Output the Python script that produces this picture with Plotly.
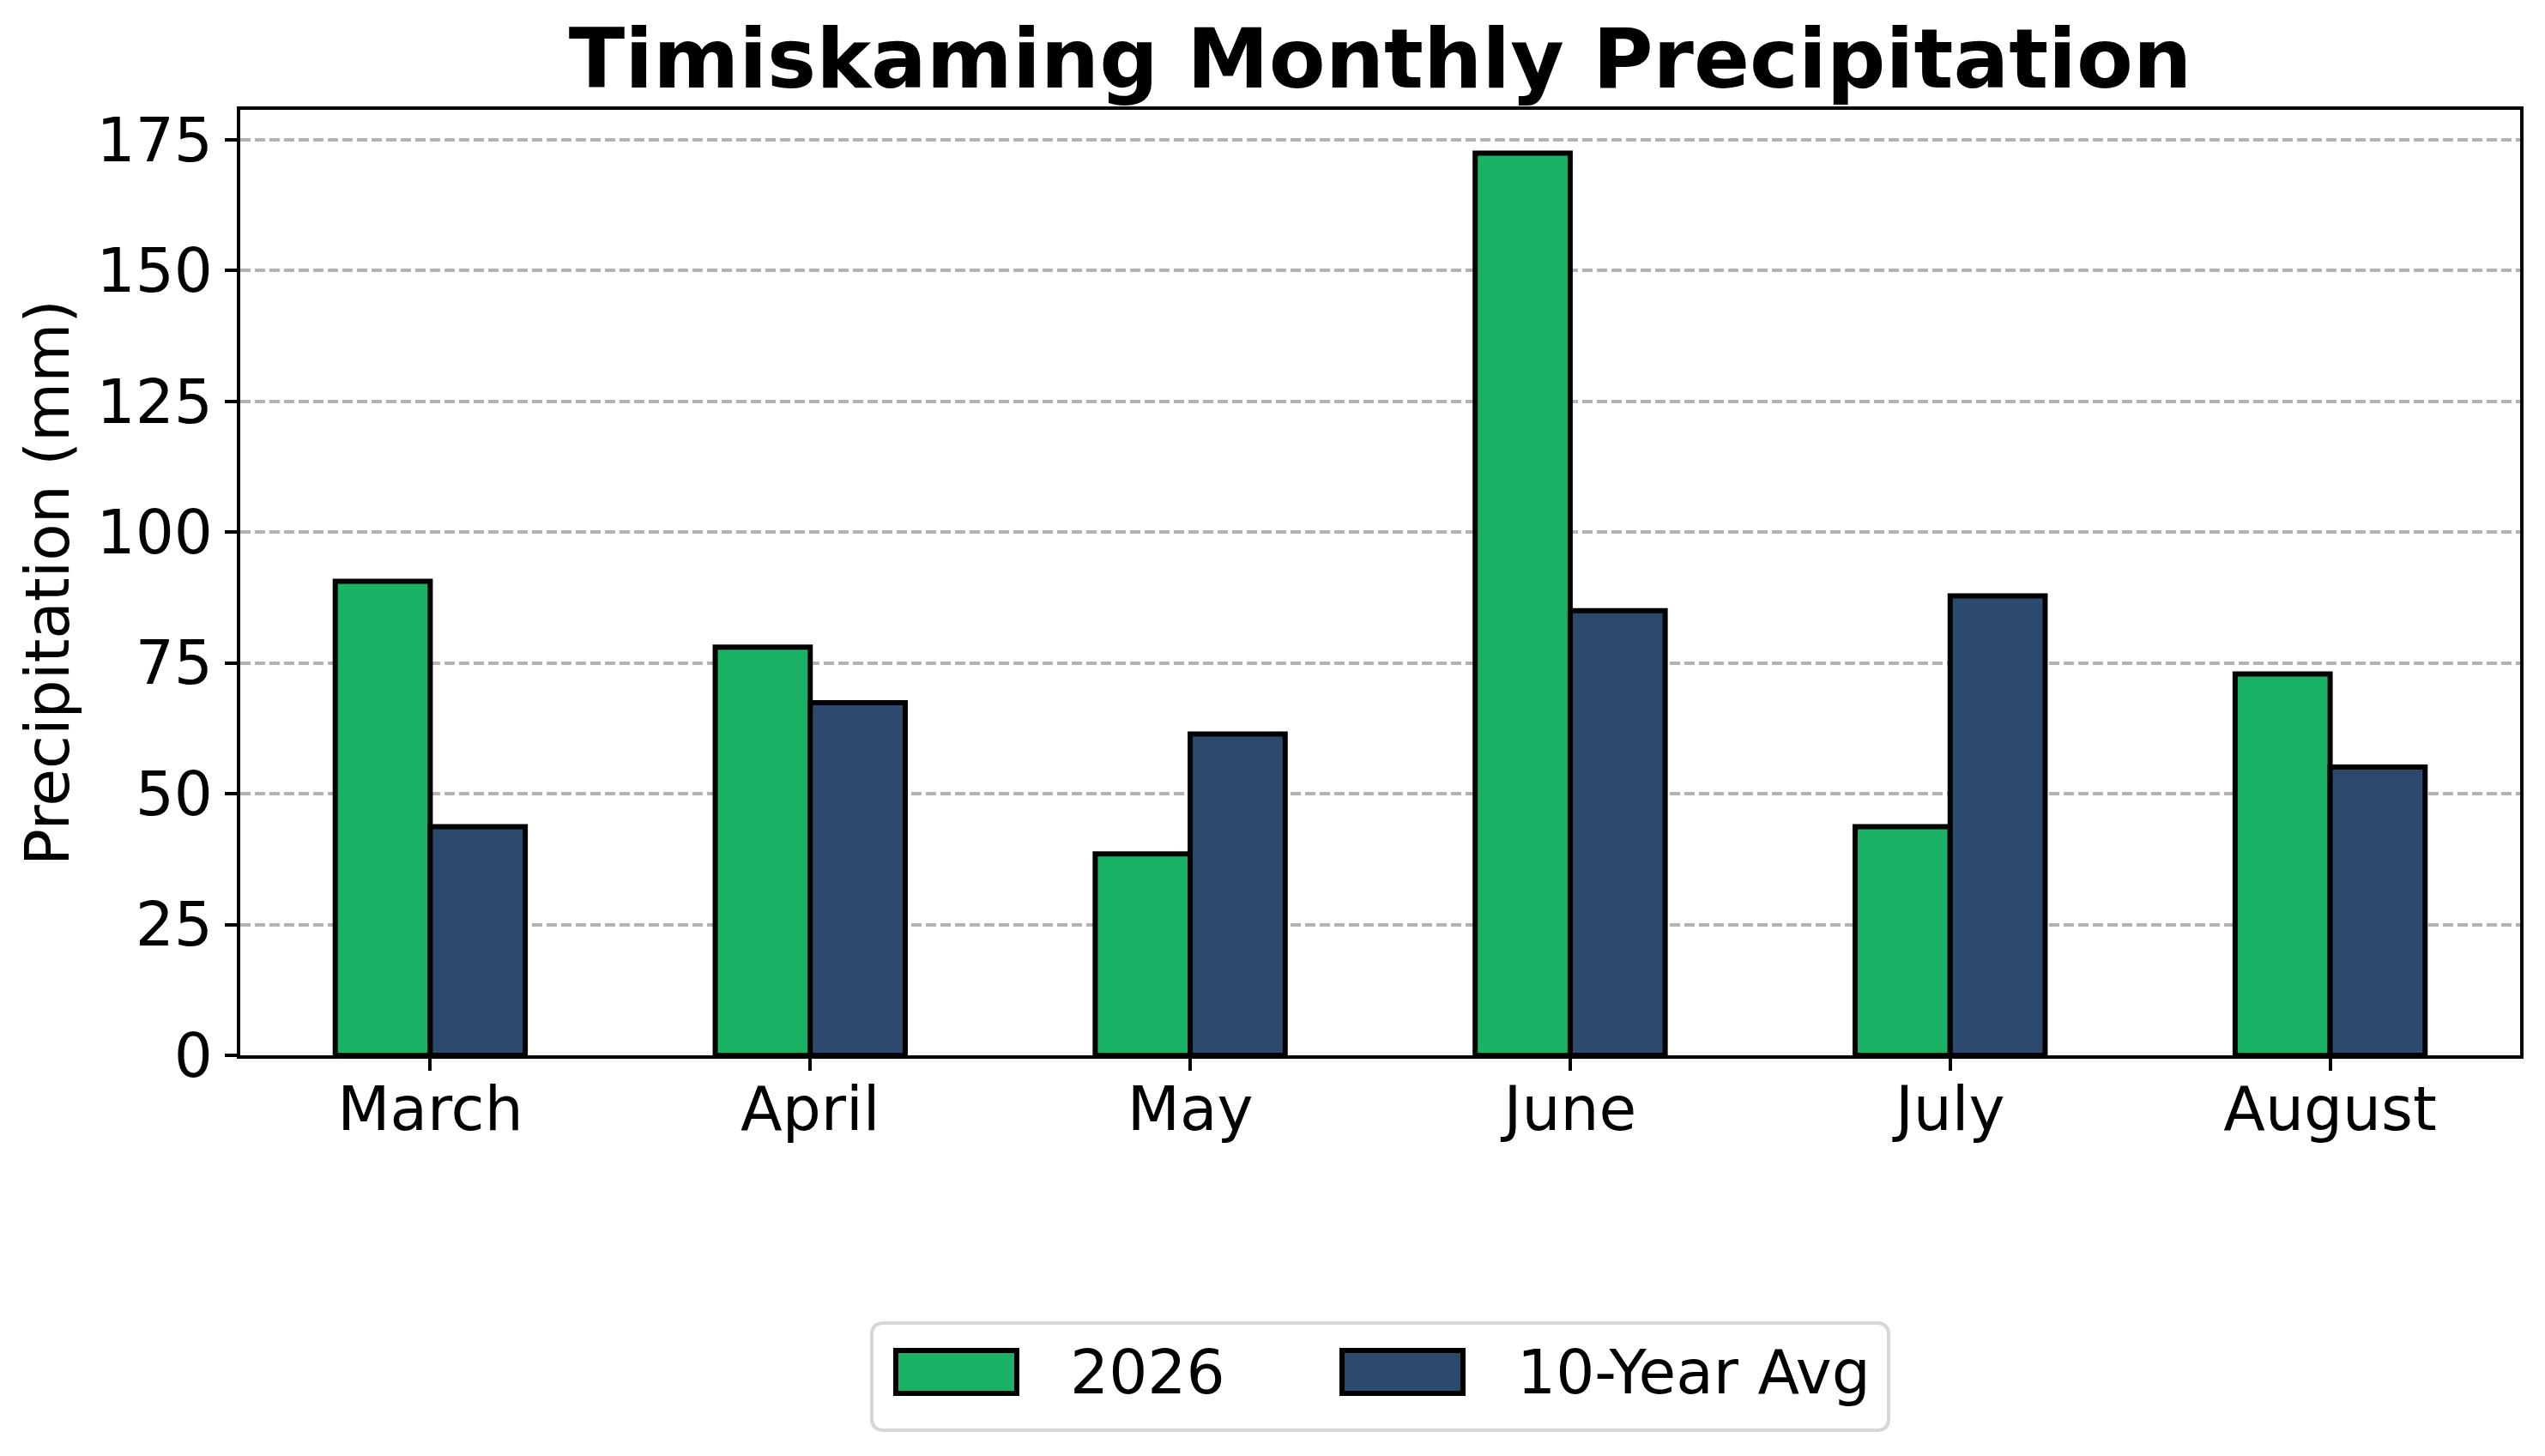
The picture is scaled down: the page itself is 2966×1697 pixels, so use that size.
import plotly.graph_objects as go

# data
months = ["March", "April", "May", "June", "July", "August"]
precip_2026 = [90.6, 78.0, 38.5, 172.4, 43.7, 72.9]
precip_avg = [43.7, 67.4, 61.4, 85.0, 87.8, 55.1]
series_names = ["2026", "10-Year Avg"]
y_ticks = [0, 25, 50, 75, 100, 125, 150, 175]

GREEN = "#1AB264"
NAVY = "#2C4A6E"
FONT = "DejaVu Sans"

W, H = 2966, 1697
L, R, T, B = 280, 29, 128, 467

fig = go.Figure()
for name, vals, col in zip(series_names, [precip_2026, precip_avg], [GREEN, NAVY]):
    fig.add_trace(go.Bar(
        x=months, y=vals, name=name,
        marker=dict(color=col, line=dict(color="black", width=6)),
        showlegend=False,
    ))

fig.update_layout(
    width=W, height=H,
    margin=dict(l=L, r=R, t=T, b=B, pad=0),
    plot_bgcolor="white", paper_bgcolor="white",
    barmode="group", bargap=0.5, bargroupgap=0,
    font=dict(family=FONT, size=71, color="black"),
    title=dict(
        text="Timiskaming Monthly Precipitation",
        font=dict(family=FONT, size=96, color="black", weight="bold"),
        x=0.5, xref="paper", xanchor="center",
        y=1 - 68 / H, yref="container", yanchor="middle",
    ),
)

fig.update_xaxes(
    showline=True, linecolor="black", linewidth=3.5, mirror=True,
    ticks="outside", ticklen=14, tickwidth=3.5, tickcolor="black",
    tickfont=dict(size=71), showgrid=False, ticklabelstandoff=-16,
)
fig.update_yaxes(
    range=[0, 180.7], tickvals=y_ticks,
    showline=True, linecolor="black", linewidth=3.5, mirror=True,
    ticks="outside", ticklen=14, tickwidth=3.5, tickcolor="black",
    tickfont=dict(size=71),
    showgrid=True, gridcolor="#b3b3b3", gridwidth=3.5, griddash="12px,5px",
    zeroline=False,
    title=dict(text="Precipitation (mm)", font=dict(size=71), standoff=10),
)

# legend drawn by hand so the patches match the reference size
def px_x(p):
    return (p - L) / (W - L - R)

def px_y(p):
    return (H - B - p) / (H - T - B)

x0, x1, y0, y1 = px_x(1016), px_x(2201), px_y(1667), px_y(1542)
rx, ry = 14 / (W - L - R), 14 / (H - T - B)
box = (f"M{x0 + rx},{y1} L{x1 - rx},{y1} Q{x1},{y1} {x1},{y1 - ry} "
       f"L{x1},{y0 + ry} Q{x1},{y0} {x1 - rx},{y0} L{x0 + rx},{y0} "
       f"Q{x0},{y0} {x0},{y0 + ry} L{x0},{y1 - ry} Q{x0},{y1} {x0 + rx},{y1} Z")
fig.add_shape(type="path", path=box, xref="paper", yref="paper",
              line=dict(color="#d6d6d6", width=4), fillcolor="white")

patches = [(1041, 1188, 1245), (1561, 1708, 1766)]
for (pl, pr, tl), name, col in zip(patches, series_names, [GREEN, NAVY]):
    fig.add_shape(type="rect", xref="paper", yref="paper",
                  x0=px_x(pl + 3), x1=px_x(pr - 3), y0=px_y(1624), y1=px_y(1574),
                  line=dict(color="black", width=6), fillcolor=col)
    fig.add_annotation(text=name, xref="paper", yref="paper",
                       x=px_x(tl), y=px_y(1599), xanchor="left", yanchor="middle",
                       showarrow=False, font=dict(size=71, color="black"))

fig.write_html("out.html", config={"displayModeBar": False},
               post_script="document.body.style.margin='0';")
